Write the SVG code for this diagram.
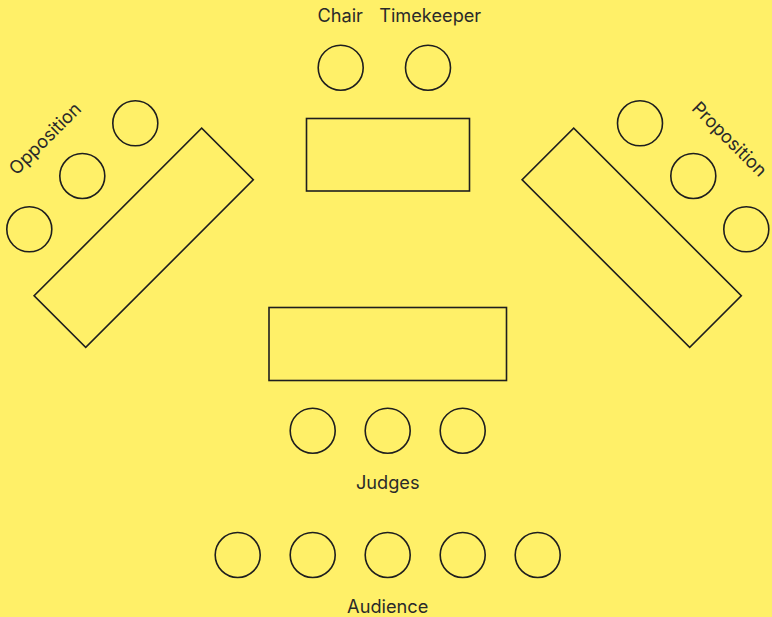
<svg xmlns="http://www.w3.org/2000/svg" width="772" height="617" viewBox="0 0 772 617">
  <style>
    .seat { fill: none; stroke: #1e1e1e; stroke-width: 1.6; }
    .table { fill: none; stroke: #1e1e1e; stroke-width: 1.6; }
    .label { font-family: Inter, "Noto Sans", "Liberation Sans", sans-serif; font-size: 18.2px; fill: #2a2a2a; text-anchor: middle; }
  </style>
  <rect x="0" y="0" width="772" height="617" fill="#FFF068"/>

  <!-- Chair and timekeeper -->
  <g id="chair">
    <text class="label" x="340.2" y="22">Chair</text>
    <circle class="seat" cx="340.7" cy="67.7" r="22.5"/>
  </g>
  <g id="timekeeper">
    <text class="label" x="430.2" y="22">Timekeeper</text>
    <circle class="seat" cx="428" cy="67.7" r="22.5"/>
  </g>
  <g id="head-table">
    <rect class="table" x="306.5" y="118.5" width="163" height="72.5"/>
  </g>

  <!-- Opposition bench -->
  <g id="opposition">
    <text class="label" transform="translate(49.5,143) rotate(-45)" x="0" y="0">Opposition</text>
    <circle class="seat" cx="135.3" cy="123.3" r="22.5"/>
    <circle class="seat" cx="82.3" cy="176" r="22.5"/>
    <circle class="seat" cx="29.3" cy="229.3" r="22.5"/>
    <rect class="table" x="-118.5" y="-36.5" width="237" height="73" transform="translate(143.7,237.8) rotate(-45)"/>
  </g>

  <!-- Proposition bench -->
  <g id="proposition">
    <text class="label" transform="translate(725,143.5) rotate(45)" x="0" y="0">Proposition</text>
    <circle class="seat" cx="640" cy="123.3" r="22.5"/>
    <circle class="seat" cx="693.3" cy="176" r="22.5"/>
    <circle class="seat" cx="746.3" cy="229.3" r="22.5"/>
    <rect class="table" x="-118.5" y="-36.5" width="237" height="73" transform="translate(631.7,237.8) rotate(45)"/>
  </g>

  <!-- Judges -->
  <g id="judges-table">
    <rect class="table" x="269" y="307.5" width="237.5" height="73"/>
  </g>
  <g id="judges">
    <circle class="seat" cx="312.7" cy="430.7" r="22.5"/>
    <circle class="seat" cx="387.7" cy="430.7" r="22.5"/>
    <circle class="seat" cx="462.7" cy="430.7" r="22.5"/>
    <text class="label" x="387.7" y="489">Judges</text>
  </g>

  <!-- Audience -->
  <g id="audience">
    <circle class="seat" cx="237.7" cy="555" r="22.5"/>
    <circle class="seat" cx="312.7" cy="555" r="22.5"/>
    <circle class="seat" cx="387.7" cy="555" r="22.5"/>
    <circle class="seat" cx="462.7" cy="555" r="22.5"/>
    <circle class="seat" cx="537.7" cy="555" r="22.5"/>
    <text class="label" x="387.7" y="613">Audience</text>
  </g>

  <g id="connectors"/>
</svg>
